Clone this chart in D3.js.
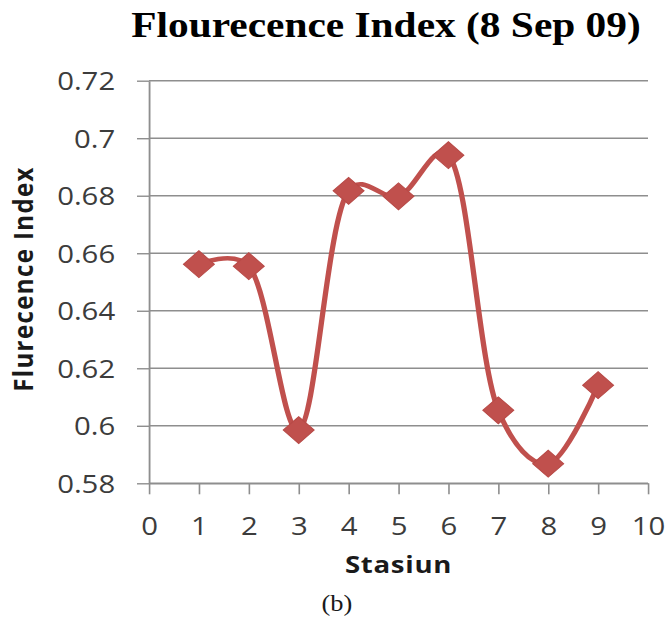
<!DOCTYPE html>
<html>
<head>
<meta charset="utf-8">
<script src="https://cdn.jsdelivr.net/npm/d3@7"></script>
<style>
  html, body { margin: 0; padding: 0; background: #ffffff; }
  svg { display: block; }
</style>
</head>
<body>
<svg id="chart" width="670" height="621"></svg>
<script>
// Station numbers and the fluorescence index measured at each (8 Sep 09)
const stations = [1, 2, 3, 4, 5, 6, 7, 8, 9];
const fluorescence = [0.6562, 0.6555, 0.5985, 0.6817, 0.6798, 0.6941, 0.6054, 0.5868, 0.6141];

// Axis ticks and their labels
const xTicks = [0, 1, 2, 3, 4, 5, 6, 7, 8, 9, 10];
const yTicks = [0.58, 0.6, 0.62, 0.64, 0.66, 0.68, 0.7, 0.72];
const yTickLabels = ["0.58", "0.6", "0.62", "0.64", "0.66", "0.68", "0.7", "0.72"];

const titleText = "Flourecence Index (8 Sep 09)";
const xTitle = "Stasiun";
const yTitle = "Flurecence Index";
const caption = "(b)";

// The whole figure is laid out in a slightly narrower space and widened horizontally.
const SX = 1.15;
const inner = v => v / SX;

const plot = { left: 149, right: 648, top: 80.7, bottom: 483.3 };

const svg = d3.select("#chart");
const root = svg.append("g").attr("transform", `scale(${SX},1)`);

const x = d3.scaleLinear().domain([0, 10]).range([inner(plot.left), inner(plot.right)]);
const y = d3.scaleLinear().domain([0.58, 0.72]).range([plot.bottom, plot.top]);

const gridColor = "#8e8e8e";
const labelFont = "'Open Sans', 'Noto Sans', sans-serif";

// Horizontal gridlines
root.append("g")
  .selectAll("line")
  .data(yTicks)
  .join("line")
  .attr("x1", x(0))
  .attr("x2", x(10))
  .attr("y1", d => y(d))
  .attr("y2", d => y(d))
  .attr("stroke", gridColor)
  .attr("stroke-width", 1.4);

// Y axis
const yAxis = root.append("g")
  .attr("transform", `translate(${x(0)},0)`)
  .call(d3.axisLeft(y)
    .tickValues(yTicks)
    .tickSize(inner(12))
    .tickSizeOuter(0)
    .tickPadding(19)
    .tickFormat((d, i) => yTickLabels[i]));

// X axis
const xAxis = root.append("g")
  .attr("transform", `translate(0,${y(0.58)})`)
  .call(d3.axisBottom(x)
    .tickValues(xTicks)
    .tickSize(11)
    .tickSizeOuter(0)
    .tickPadding(22.5)
    .tickFormat(d3.format("d")));

[yAxis, xAxis].forEach(ax => {
  ax.select(".domain").attr("stroke", gridColor).attr("stroke-width", 1.6);
  ax.selectAll(".tick line").attr("stroke", gridColor).attr("stroke-width", 1.4);
  ax.selectAll(".tick text")
    .attr("fill", "#3c3c3c")
    .style("font-family", labelFont)
    .style("font-size", "25.5px");
});
yAxis.selectAll(".tick text").attr("dy", "0.36em");

// Smoothed series line
const pts = stations.map((s, i) => [x(s), y(fluorescence[i])]);
const line = d3.line().curve(d3.curveCatmullRom.alpha(0.25));

root.append("path")
  .attr("d", line(pts))
  .attr("fill", "none")
  .attr("stroke", "#C0504D")
  .attr("stroke-width", 4.6)
  .attr("stroke-linejoin", "round")
  .attr("stroke-linecap", "round");

// Diamond markers
const diamond = d3.symbol().type(d3.symbolSquare).size(360);
root.append("g")
  .selectAll("path")
  .data(pts)
  .join("path")
  .attr("d", diamond)
  .attr("transform", d => `translate(${d[0]},${d[1]}) rotate(45)`)
  .attr("fill", "#C0504D")
  .attr("stroke", "#B84A47")
  .attr("stroke-width", 1);

// Chart title
root.append("text")
  .attr("x", inner(386))
  .attr("y", 37)
  .attr("text-anchor", "middle")
  .style("font-family", "'Liberation Serif', 'Times New Roman', serif")
  .style("font-weight", "bold")
  .style("font-size", "36px")
  .attr("fill", "#000")
  .text(titleText);

// X axis title
root.append("text")
  .attr("x", (x(0) + x(10)) / 2)
  .attr("y", 573)
  .attr("text-anchor", "middle")
  .style("font-family", labelFont)
  .style("font-weight", "bold")
  .style("font-size", "24px")
  .style("letter-spacing", "0.6px")
  .attr("fill", "#1a1a1a")
  .text(xTitle);

// Y axis title
root.append("text")
  .attr("transform", `translate(${inner(33)},${(plot.top + plot.bottom) / 2 - 3}) rotate(-90)`)
  .attr("text-anchor", "middle")
  .style("font-family", labelFont)
  .style("font-weight", "bold")
  .style("font-size", "24px")
  .style("letter-spacing", "1.4px")
  .attr("fill", "#1a1a1a")
  .text(yTitle);

// Panel caption
root.append("text")
  .attr("x", inner(337))
  .attr("y", 611)
  .attr("text-anchor", "middle")
  .style("font-family", "'Liberation Serif', 'Times New Roman', serif")
  .style("font-size", "23px")
  .attr("fill", "#1a1a1a")
  .text(caption);
</script>
</body>
</html>
